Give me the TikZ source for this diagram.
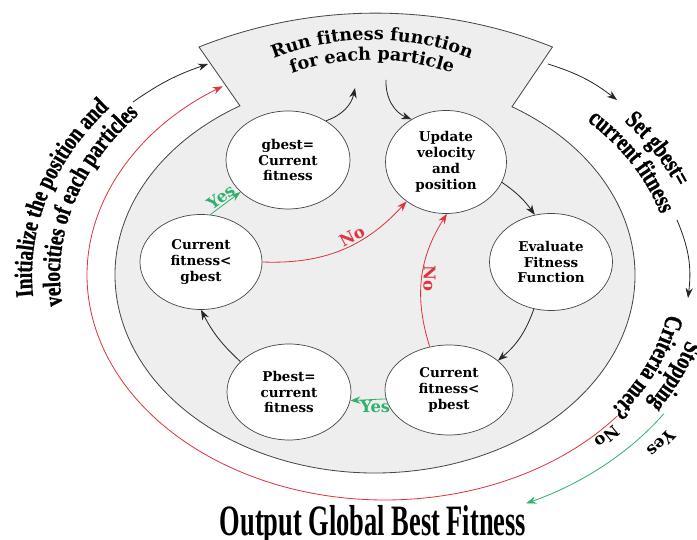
\documentclass[tikz,border=0pt]{standalone}
\usepackage{fontspec}
\usepackage{tikz}
\usetikzlibrary{shapes.geometric,arrows.meta,decorations.text,calc}
\setmainfont{DejaVu Serif}
\newfontfamily\condfont[FakeStretch=0.77,FakeBold=1]{Liberation Serif}
\newfontfamily\outfont[FakeStretch=0.61]{Liberation Serif}
\definecolor{ringgray}{RGB}{238,238,238}
\definecolor{linegray}{RGB}{70,70,70}
\definecolor{nored}{RGB}{224,52,62}
\definecolor{yesgreen}{RGB}{46,178,110}

\begin{document}
\begin{tikzpicture}[x=0.03cm,y=0.03cm,
    stage/.style={ellipse,draw=linegray,line width=0.6pt,fill=white,inner sep=0pt,
      align=center,font=\bfseries\fontsize{11.5}{13.5}\selectfont},
    flow/.style={-{Stealth[length=3mm,width=2.2mm]},line width=0.7pt,black!85},
    nopath/.style={flow,nored},
    yespath/.style={flow,yesgreen},
    lab/.style={font=\bfseries\fontsize{14}{16}\selectfont,inner sep=1pt}]
  \useasboundingbox (0,0) rectangle (697,540);

  % centres of the rings
  \coordinate (o) at (385,265);
  \coordinate (oin) at (375,265);
  \coordinate (otop) at (372,230);

  % grey ring with the top box
  \draw[linegray,line width=0.7pt,fill=ringgray]
    (199,493) arc[start angle=111.7,end angle=68.3,radius=478]
    -- ($(oin)+(58.2:260 and 198)$)
    arc[start angle=58.2,end angle=-238.7,x radius=260,y radius=198] -- cycle;

  \path[decorate,decoration={text along path,text align=center,
      text={|\bfseries\fontsize{15}{15}\selectfont|Run fitness function}}]
    ($(otop)+(150:270)$) arc[start angle=150,end angle=30,radius=270];
  \path[decorate,decoration={text along path,text align=center,
      text={|\bfseries\fontsize{15}{15}\selectfont|for each particle}}]
    ($(otop)+(150:250)$) arc[start angle=150,end angle=30,radius=250];

  % stages
  \node[stage,minimum width=3.72cm,minimum height=2.94cm] (gb) at (288,380) {gbest=\\Current\\fitness};
  \node[stage,minimum width=3.63cm,minimum height=3.09cm] (upd) at (446,378) {Update\\velocity\\and\\position};
  \node[stage,minimum width=3.69cm,minimum height=2.91cm] (ev) at (551,278) {Evaluate\\Fitness\\Function};
  \node[stage,minimum width=3.84cm,minimum height=2.70cm] (cfp) at (449,150) {Current\\fitness<\\pbest};
  \node[stage,minimum width=3.72cm,minimum height=2.88cm] (pb) at (289,148) {Pbest=\\current\\fitness};
  \node[stage,minimum width=3.66cm,minimum height=2.85cm] (cfg) at (201,278) {Current\\fitness<\\gbest};

  \coordinate (runout) at (355,452);
  \coordinate (runin) at (386,460);
  \draw[flow] (gb.46) to[bend right=30] (runout);
  \draw[flow] (runin) to[bend right=35] (upd.129);
  \draw[flow] (upd.-20) to[bend left=10] (ev.109);
  \draw[flow] (ev.-110) to[bend left=15] (cfp.31);
  \draw[yespath] (cfp.188) -- node[lab,below,yesgreen,pos=0.3] {Yes} (pb.-8);
  \draw[flow] (pb.148) to[bend left=10] (cfg.-90);
  \draw[yespath] (cfg.79) -- node[lab,sloped,above,yesgreen] {Yes} (gb.214);
  \draw[nopath] (cfg.0) to[bend right=25] node[lab,sloped,above,nored,pos=0.6] {No} (upd.-135);
  \draw[nopath] (cfp.114) to[bend left=25] node[lab,rotate=-90,above,nored] {No} (upd.-89);

  % outer ring
  \coordinate (initstart) at (133,438);
  \coordinate (initend) at (208,476);
  \draw[flow] (initstart) to[bend left=8] (initend);
  \path[decorate,decoration={text along path,text align=center,
      text={|\condfont\bfseries\fontsize{21.5}{21.5}\selectfont|Initialize the position and}}]
    ($(o)+(200:353 and 267)$) arc[start angle=200,end angle=128,x radius=353,y radius=267];
  \path[decorate,decoration={text along path,text align=center,
      text={|\condfont\bfseries\fontsize{21.5}{21.5}\selectfont|velocities of each particles}}]
    ($(o)+(200:325 and 246)$) arc[start angle=200,end angle=128,x radius=325,y radius=246];

  \coordinate (setstart) at (548,476);
  \coordinate (setend) at (617,440);
  \draw[flow] (setstart) to[bend left=10] (setend);
  \path[decorate,decoration={text along path,text align=center,
      text={|\condfont\bfseries\fontsize{21.5}{21.5}\selectfont|Set gbest=}}]
    ($(o)+(62:314 and 237)$) arc[start angle=62,end angle=-4,x radius=314,y radius=237];
  \path[decorate,decoration={text along path,text align=center,
      text={|\condfont\bfseries\fontsize{21.5}{21.5}\selectfont|current fitness}}]
    ($(o)+(62:287 and 217)$) arc[start angle=62,end angle=-4,x radius=287,y radius=217];

  \coordinate (stopstart) at (677,320);
  \coordinate (stopend) at (688,242);
  \draw[flow] (stopstart) to[bend left=15] (stopend);
  \path[decorate,decoration={text along path,text align=center,
      text={|\condfont\bfseries\fontsize{21.5}{21.5}\selectfont|Stopping}}]
    ($(o)+(12:314 and 237)$) arc[start angle=12,end angle=-57,x radius=314,y radius=237];
  \path[decorate,decoration={text along path,text align=center,
      text={|\condfont\bfseries\fontsize{21.5}{21.5}\selectfont|Criteria met?}}]
    ($(o)+(8:287 and 217)$) arc[start angle=8,end angle=-54,x radius=287,y radius=217];

  \draw[nopath] ($(o)+(-38.8:298 and 225)$) arc[start angle=-38.8,end angle=-237,x radius=298,y radius=225];
  \path[nored,decorate,decoration={text along path,text align=center,
      text={|\bfseries\fontsize{14}{14}\selectfont|No}}]
    ($(o)+(-20:302 and 228)$) arc[start angle=-20,end angle=-65,x radius=302,y radius=228];
  \draw[yespath] ($(o)+(-33.4:334 and 252)$) arc[start angle=-33.4,end angle=-65,x radius=334,y radius=252];
  \path[yesgreen,decorate,decoration={text along path,text align=center,
      text={|\bfseries\fontsize{14}{14}\selectfont|Yes}}]
    ($(o)+(-15:349 and 263)$) arc[start angle=-15,end angle=-60,x radius=349,y radius=263];

  \node[anchor=base,inner sep=0pt,font=\outfont\bfseries\fontsize{37}{37}\selectfont] (out) at (373,4) {Output Global Best Fitness};
\end{tikzpicture}
\end{document}
